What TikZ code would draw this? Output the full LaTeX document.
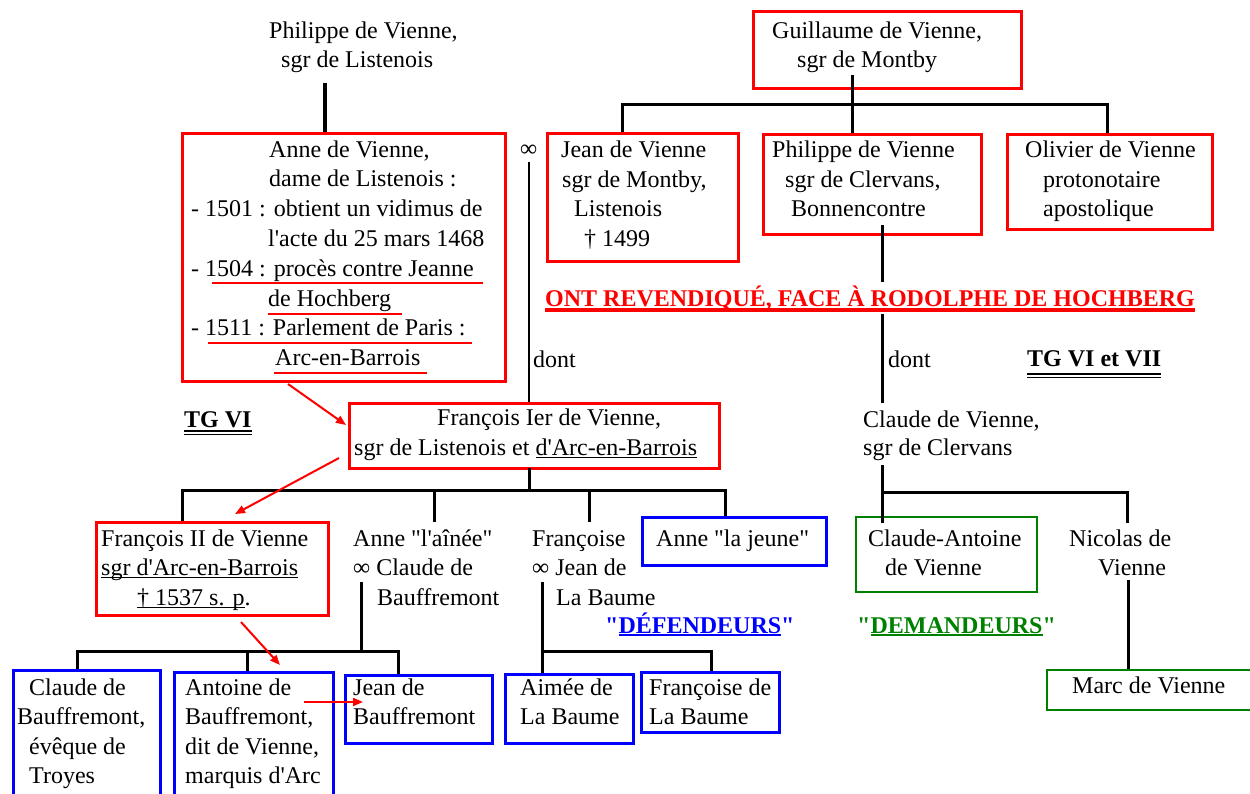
\documentclass[tikz,border=0pt]{standalone}
\usepackage{fontspec}
\setmainfont{Liberation Serif}[Ligatures=TeXOff]
\usetikzlibrary{arrows.meta,fit}
\definecolor{dgreen}{RGB}{0,128,0}
\newsavebox\ulbox
\newcommand\ulin[2][1.2pt]{\sbox\ulbox{#2}\rlap{\rule[-3.2pt]{\wd\ulbox}{#1}}\usebox\ulbox}
\begin{document}
\begin{tikzpicture}[x=1pt,y=-1pt,
  txt/.style={anchor=base west, inner sep=0pt, font=\fontsize{24}{30}\selectfont},
  bld/.style={anchor=base west, inner sep=0pt, font=\fontsize{24}{30}\selectfont\bfseries},
  rbox/.style={draw=red, line width=3pt, inner sep=0pt},
  bbox/.style={draw=blue, line width=3pt, inner sep=0pt},
  gbox/.style={draw=dgreen, line width=2.7pt, inner sep=0pt},
  conn/.style={line width=3pt, black},
  rarr/.style={red, line width=2pt, -{Triangle[length=10pt,width=8pt]}},
  rul/.style={red, line width=1.8pt}]
\useasboundingbox (0,0) rectangle (1250,794);

% ---------- boxes ----------
\node[rbox, fit={(182,134) (505,381)}] (anne) {};
\node[rbox, fit={(753,12) (1021,89)}] (guil) {};
\node[rbox, fit={(547,134) (738,262)}] (jean) {};
\node[rbox, fit={(763,135) (981,235)}] (phil) {};
\node[rbox, fit={(1007,135) (1212,230)}] (oliv) {};
\node[rbox, fit={(349,403) (719,468)}] (fr1) {};
\node[rbox, fit={(96,522) (328,615)}] (fr2) {};
\node[bbox, fit={(642,517) (826,565)}] (annej) {};
\node[gbox, fit={(856,517) (1037,592)}] (cant) {};
\node[gbox, fit={(1047,670) (1262,710)}] (marc) {};
\node[bbox, fit={(13,670) (160,812)}] (claude) {};
\node[bbox, fit={(174,672) (333,812)}] (antoine) {};
\node[bbox, fit={(345,675) (492,743)}] (jeanb) {};
\node[bbox, fit={(505,674) (633,743)}] (aimee) {};
\node[bbox, fit={(641,672) (779,732)}] (frb) {};

% ---------- coordinates ----------
\coordinate (pvA) at (325,83);
\coordinate (infA) at (529,162);
\coordinate (g0) at (852,75);
\coordinate (b1L) at (622,105);
\coordinate (b1R) at (1107,105);
\coordinate (ph0) at (882,225);
\coordinate (ph1) at (882,403);
\coordinate (f1a) at (529,468);
\coordinate (b2L) at (182,490);
\coordinate (b2R) at (725,490);
\coordinate (aa0) at (434,492);
\coordinate (fo0) at (589,492);
\coordinate (an0) at (361,582);
\coordinate (b3L) at (77,651);
\coordinate (b3M) at (247,651);
\coordinate (b3R) at (398,651);
\coordinate (fb0) at (542,582);
\coordinate (fbR) at (711,651);
\coordinate (cv0) at (882,465);
\coordinate (b4L) at (882,492);
\coordinate (b4R) at (1127,492);
\coordinate (ni0) at (1128,580);

% ---------- connectors ----------
\draw[black, line width=4pt] (pvA) -- (pvA |- anne.north);
\draw[black, line width=2.2pt] (infA) -- (infA |- fr1.north);
\draw[conn] (g0) -- (g0 |- phil.north);
\draw[conn] (b1L |- jean.north) -- (b1L) -- (b1R) -- (b1R |- oliv.north);
\draw[conn] (ph0) -- (ph1);
\draw[conn] (f1a) -- (f1a |- b2L);
\draw[conn] (b2L |- fr2.north) -- (b2L) -- (b2R) -- (b2R |- annej.north);
\draw[conn] (aa0) -- (434,522);
\draw[conn] (fo0) -- (589,522);
\draw[conn] (an0) -- (an0 |- b3L);
\draw[conn] (b3L |- claude.north) -- (b3L) -- (b3R) -- (b3R |- jeanb.north);
\draw[conn] (b3M) -- (b3M |- antoine.north);
\draw[conn] (fb0) -- (fb0 |- aimee.north);
\draw[conn] (fb0 |- fbR) -- (fbR) -- (fbR |- frb.north);
\draw[conn] (cv0) -- (882,523);
\draw[conn] (b4L) -- (b4R) -- (1127,523);
\draw[conn] (ni0) -- (ni0 |- marc.north);

% ---------- texts ----------
\node[txt] (pv1) at (269,39) {Philippe de Vienne,};
\node[txt] (pv2) at (281,68) {sgr de Listenois};

\node[txt] (an1) at (269,158) {Anne de Vienne,};
\node[txt] (an2) at (269,187) {dame de Listenois :};
\node[txt] (an3) at (191,217) {- 1501 : obtient un vidimus de};
\node[txt] (an4) at (268,247) {l'acte du 25 mars 1468};
\node[txt] (an5) at (191,277) {- 1504 : procès contre Jeanne};
\node[txt] (an6) at (268,306) {de Hochberg};
\node[txt] (an7) at (191,335) {- 1511 : Parlement de Paris :};
\node[txt] (an8) at (275,365) {Arc-en-Barrois};
\draw[rul] (212,283) -- (483,283);
\draw[rul] (268,314) -- (402,314);
\draw[rul] (208,343) -- (472,343);
\draw[rul] (274,373) -- (427,373);

\node[txt] (inf) at (520,157) {∞};
\node[txt] (dont1) at (533,367) {dont};

\node[txt] (gu1) at (772,39) {Guillaume de Vienne,};
\node[txt] (gu2) at (797,68) {sgr de Montby};

\node[txt] (je1) at (561,158) {Jean de Vienne};
\node[txt] (je2) at (562,188) {sgr de Montby,};
\node[txt] (je3) at (574,217) {Listenois};
\node[txt] (je4) at (584,247) {† 1499};

\node[txt] (ph1t) at (772,158) {Philippe de Vienne};
\node[txt] (ph2t) at (785,188) {sgr de Clervans,};
\node[txt] (ph3t) at (791,217) {Bonnencontre};

\node[txt] (ol1) at (1025,158) {Olivier de Vienne};
\node[txt] (ol2) at (1043,188) {protonotaire};
\node[txt] (ol3) at (1043,217) {apostolique};

\node[bld, text=red, fill=white, inner ysep=3pt, text height=21pt, text depth=5pt] (head) at (545,306) {ONT REVENDIQUÉ, FACE À RODOLPHE DE HOCHBERG};
\draw[red, line width=3pt] ([yshift=-4pt]head.base west) -- ([yshift=-4pt]head.base east);

\node[txt] (dont2) at (888,367) {dont};
\node[bld] (tg2) at (1027,366) {TG VI et VII};
\draw[black, line width=2.6pt] ([yshift=-8pt]tg2.base west) -- ([yshift=-8pt]tg2.base east);
\draw[black, line width=1pt] ([yshift=-11.5pt]tg2.base west) -- ([yshift=-11.5pt]tg2.base east);

\node[txt] (cv1) at (863,427) {Claude de Vienne,};
\node[txt] (cv2) at (863,455) {sgr de Clervans};

\node[bld] (tg1) at (184,427) {TG VI};
\draw[black, line width=2.6pt] ([yshift=-4pt]tg1.base west) -- ([yshift=-4pt]tg1.base east);
\draw[black, line width=1pt] ([yshift=-7pt]tg1.base west) -- ([yshift=-7pt]tg1.base east);

\node[txt] (f11) at (437,425) {François Ier de Vienne,};
\node[txt] (f12) at (354,455) {sgr de Listenois et \ulin{d'Arc-en-Barrois}};

\node[txt] (f21) at (101,546) {François II de Vienne};
\node[txt] (f22) at (101,575) {\ulin{sgr d'Arc-en-Barrois}};
\node[txt] (f23) at (137,605) {\ulin{† 1537 s. p}.};

\node[txt] (aa1) at (353,546) {Anne "l'aînée"};
\node[txt] (aa2) at (353,575) {∞ Claude de};
\node[txt] (aa3) at (377,605) {Bauffremont};

\node[txt] (fo1) at (532,546) {Françoise};
\node[txt] (fo2) at (532,575) {∞ Jean de};
\node[txt] (fo3) at (556,605) {La Baume};

\node[txt] (aj1) at (656,546) {Anne "la jeune"};

\node[txt] (ca1) at (868,546) {Claude-Antoine};
\node[txt] (ca2) at (885,575) {de Vienne};

\node[txt] (ni1) at (1069,546) {Nicolas de};
\node[txt] (ni2) at (1098,575) {Vienne};

\node[bld, text=blue] (def) at (605,633) {"\ulin[2pt]{DÉFENDEURS}"};
\node[bld, text=dgreen] (dem) at (857,633) {"\ulin[2pt]{DEMANDEURS}"};

\node[txt] (cl1) at (29,695) {Claude de};
\node[txt] (cl2) at (17,724) {Bauffremont,};
\node[txt] (cl3) at (29,754) {évêque de};
\node[txt] (cl4) at (29,783) {Troyes};

\node[txt] (at1) at (185,695) {Antoine de};
\node[txt] (at2) at (185,724) {Bauffremont,};
\node[txt] (at3) at (185,754) {dit de Vienne,};
\node[txt] (at4) at (185,783) {marquis d'Arc};

\node[txt] (jb1) at (353,695) {Jean de};
\node[txt] (jb2) at (353,724) {Bauffremont};

\node[txt] (am1) at (520,695) {Aimée de};
\node[txt] (am2) at (520,724) {La Baume};

\node[txt] (fb1) at (649,695) {Françoise de};
\node[txt] (fb2) at (649,724) {La Baume};

\node[txt] (mv) at (1072,693) {Marc de Vienne};

% ---------- red arrows ----------
\coordinate (r1a) at (288,384);
\coordinate (r1b) at (346,425);
\coordinate (r2a) at (339,458);
\coordinate (r2b) at (235,514);
\coordinate (r3a) at (241,622);
\coordinate (r3b) at (280,665);
\coordinate (r4a) at (304,702);
\coordinate (r4b) at (363,702);
\draw[rarr] (r1a) -- (r1b);
\draw[rarr] (r2a) -- (r2b);
\draw[rarr] (r3a) -- (r3b);
\draw[rarr] (r4a) -- (r4b);
\end{tikzpicture}
\end{document}
